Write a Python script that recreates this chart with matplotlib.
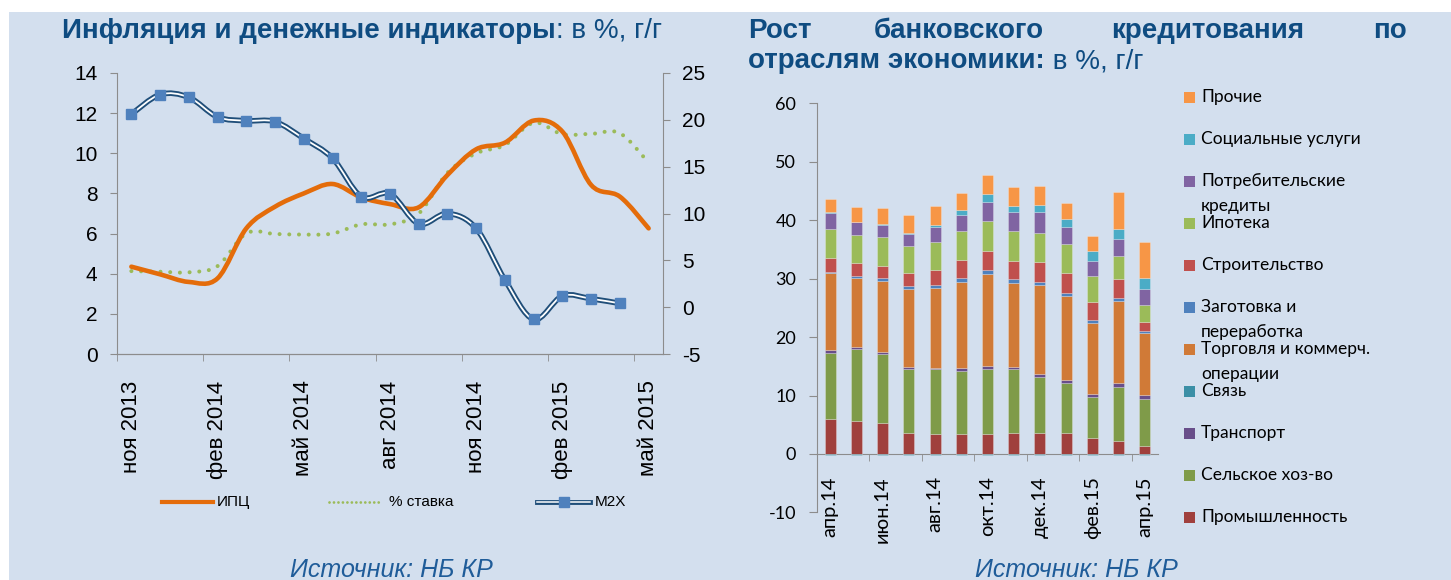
import numpy as np
import matplotlib
matplotlib.use("Agg")
import matplotlib.pyplot as plt
from matplotlib.path import Path
from matplotlib.patches import PathPatch, Rectangle
from matplotlib.lines import Line2D
from matplotlib import font_manager

plt.rcParams["axes.unicode_minus"] = False

# ---- data: inflation and money indicators (% y/y) ----
months = ["ноя 2013", "дек 2013", "янв 2014", "фев 2014", "мар 2014", "апр 2014",
          "май 2014", "июн 2014", "июл 2014", "авг 2014", "сен 2014", "окт 2014",
          "ноя 2014", "дек 2014", "янв 2015", "фев 2015", "мар 2015", "апр 2015",
          "май 2015"]
cpi = [4.35, 3.97, 3.59, 3.77, 6.26, 7.34, 8.0, 8.47, 7.8, 7.47, 7.31, 8.92,
       10.2, 10.53, 11.63, 11.08, 8.42, 7.84, 6.26]
rate = [4.13, 4.1, 4.07, 4.38, 6.01, 5.98, 5.95, 6.0, 6.46, 6.46, 7.0, 9.03,
        10.0, 10.41, 11.52, 10.95, 10.97, 11.0, 9.53]
m2x = [20.6, 22.7, 22.4, 20.3, 19.9, 19.8, 18.0, 15.9, 11.8, 12.1, 8.9, 10.0,
       8.4, 2.9, -1.3, 1.2, 0.9, 0.4]

# ---- data: bank lending growth by sector (% y/y) ----
bar_months = ["апр.14", "май.14", "июн.14", "июл.14", "авг.14", "сен.14", "окт.14",
              "ноя.14", "дек.14", "янв.15", "фев.15", "мар.15", "апр.15"]
prom = [6.0, 5.7, 5.36, 3.65, 3.48, 3.48, 3.48, 3.65, 3.65, 3.65, 2.8, 2.22, 1.43]
selsk = [11.2, 12.27, 11.75, 10.95, 11.01, 10.72, 11.12, 10.84, 9.58, 8.44, 6.9, 9.3, 7.93]
transp = [0.6, 0.28, 0.4, 0.35, 0.17, 0.52, 0.46, 0.46, 0.52, 0.52, 0.57, 0.69, 0.68]
svyaz = [-0.2, -0.2, -0.2, -0.2, -0.2, -0.2, -0.2, -0.2, -0.2, -0.2, -0.2, -0.2, -0.2]
torg = [13.1, 11.8, 12.04, 13.34, 13.81, 14.77, 15.8, 14.26, 15.23, 14.37, 12.15, 13.92, 10.61]
zagot = [0.3, 0.4, 0.51, 0.52, 0.51, 0.57, 0.69, 0.68, 0.51, 0.57, 0.57, 0.51, 0.34]
stroit = [2.4, 2.17, 2.17, 2.17, 2.51, 3.14, 3.19, 3.08, 3.31, 3.43, 3.08, 3.25, 1.66]
ipot = [4.85, 4.8, 4.85, 4.62, 4.73, 4.9, 5.13, 5.13, 5.08, 4.96, 4.39, 4.05, 2.91]
potreb = [2.75, 2.23, 2.11, 2.05, 2.63, 2.8, 3.31, 3.26, 3.48, 2.91, 2.51, 2.91, 2.73]
soc = [0.2, 0.11, 0.17, 0.17, 0.28, 0.86, 1.32, 1.08, 1.25, 1.42, 1.77, 1.6, 1.77]
proch = [2.3, 2.57, 2.8, 3.02, 3.31, 2.85, 3.25, 3.31, 3.31, 2.74, 2.62, 6.39, 6.22]

sectors = [
    ("Промышленность", prom, "#A0403D"),
    ("Сельское хоз-во", selsk, "#7F9B49"),
    ("Транспорт", transp, "#684E8A"),
    ("Связь", svyaz, "#3B8FA6"),
    ("Торговля и коммерч.\nоперации", torg, "#D07A37"),
    ("Заготовка и\nпереработка", zagot, "#4F81BD"),
    ("Строительство", stroit, "#C0504D"),
    ("Ипотека", ipot, "#9BBB59"),
    ("Потребительские\nкредиты", potreb, "#8064A2"),
    ("Социальные услуги", soc, "#4BACC6"),
    ("Прочие", proch, "#F79646"),
]

installed = {f.name for f in font_manager.fontManager.ttflist}
def fam(*names):
    return [n for n in names if n in installed] + ["DejaVu Sans"]

ARIAL = fam("Liberation Sans", "Arimo")
CALI = fam("Lato", "Open Sans", "Noto Sans")
BLUE = "#0F4C81"
BG = "#D3DFEE"
AXC = "#8C8C8C"
TSIZE = 20

W, H = 1451, 580
fig = plt.figure(figsize=(W / 100, H / 100), dpi=100, facecolor="white")

# overlay in pixel coordinates for background, titles and legends
bg = fig.add_axes([0, 0, 1, 1], zorder=-1)
bg.set_xlim(0, W)
bg.set_ylim(H, 0)
bg.axis("off")
bg.add_patch(Rectangle((9, 12), W - 9, H - 12, fc=BG, ec="none"))


def box(x0, y0, x1, y1):
    # pixel box (top-left origin) -> figure fraction rect
    return [x0 / W, (H - y1) / H, (x1 - x0) / W, (y1 - y0) / H]


def smooth_path(xs, ys):
    pts = np.column_stack([xs, ys]).astype(float)
    n = len(pts)
    verts, codes = [pts[0]], [Path.MOVETO]
    for i in range(n - 1):
        p0, p1 = pts[max(i - 1, 0)], pts[i]
        p2, p3 = pts[i + 1], pts[min(i + 2, n - 1)]
        verts += [p1 + (p2 - p0) / 6, p2 - (p3 - p1) / 6, p2]
        codes += [Path.CURVE4] * 3
    return Path(verts, codes)


# ================= left chart =================
ax = fig.add_axes(box(117, 73, 663, 354))
ax.patch.set_visible(False)
ax2 = ax.twinx()
ax2.patch.set_visible(False)

x = np.arange(len(months))
ax.add_patch(PathPatch(smooth_path(x, rate), fill=False, ec="#9BBB59", lw=2.9,
                       ls=(0, (0.01, 2.4)), capstyle="round", zorder=2))
ax.add_patch(PathPatch(smooth_path(x, cpi), fill=False, ec="#E46C0A", lw=3.3,
                       capstyle="round", zorder=3))
xm = np.arange(len(m2x))
ax2.add_patch(PathPatch(smooth_path(xm, m2x), fill=False, ec="#1F4E79", lw=4.0, zorder=3))
ax2.add_patch(PathPatch(smooth_path(xm, m2x), fill=False, ec="white", lw=1.3, zorder=4))
ax2.plot(xm, m2x, ls="none", marker="s", ms=7.5, mfc="#4F81BD", mec="#4F81BD", zorder=5)

ax.set_xlim(-0.5, len(months) - 0.5)
ax.set_ylim(0, 14)
ax2.set_ylim(-5, 25)
ax.set_yticks(range(0, 15, 2))
ax2.set_yticks(range(-5, 26, 5))
ax.set_xticks(x[::3])
ax.set_xticklabels(months[::3], rotation=90, va="top", ha="center")
ax.set_xticks(np.arange(-0.5, len(months) - 1, 3), minor=True)
ax.tick_params(axis="x", which="major", length=0, pad=19)
ax.tick_params(axis="x", which="minor", length=5, color=AXC, direction="out")
ax.tick_params(axis="y", length=5, color=AXC, pad=9)
ax2.tick_params(axis="y", length=5, color=AXC, pad=9)
for a in (ax, ax2):
    for lab in a.get_yticklabels():
        lab.set_family(ARIAL)
        lab.set_fontsize(15)
    a.spines["top"].set_visible(False)
    for s in ("left", "right", "bottom"):
        a.spines[s].set_color(AXC)
for lab in ax.get_xticklabels():
    lab.set_family(ARIAL)
    lab.set_fontsize(16)
ax.spines["right"].set_visible(False)
ax2.spines["left"].set_visible(False)

# left legend
ly = 502
bg.add_line(Line2D([162, 213], [ly, ly], color="#E46C0A", lw=3))
bg.text(217, ly, "ИПЦ", va="center", ha="left", fontsize=11, family=ARIAL)
bg.add_line(Line2D([329, 382], [ly, ly], color="#9BBB59", lw=2, ls=(0, (0.01, 1.6)),
                   dash_capstyle="round"))
bg.text(389, ly, "% ставка", va="center", ha="left", fontsize=11, family=ARIAL)
bg.add_line(Line2D([537, 590], [ly, ly], color="#1F4E79", lw=3.5))
bg.add_line(Line2D([537, 590], [ly, ly], color="white", lw=1.1))
bg.add_line(Line2D([563.5], [ly], ls="none", marker="s", ms=7, mfc="#4F81BD", mec="#4F81BD"))
bg.text(595, ly, "M2X", va="center", ha="left", fontsize=11, family=ARIAL)

# left title
t1 = bg.text(62, 37.5, "Инфляция и денежные индикаторы", fontsize=TSIZE, fontweight="bold",
             color=BLUE, family=ARIAL, va="baseline", ha="left")
bg.annotate(": в %, г/г", xy=(1, 0), xycoords=t1, va="bottom", ha="left",
            fontsize=TSIZE, color=BLUE, family=ARIAL)

# ================= right chart =================
bx = fig.add_axes(box(817, 103.3, 1158, 512.4))
bx.patch.set_visible(False)
bx.spines["bottom"].set_position(("data", 0))
xb = np.arange(len(bar_months))
pos_base = np.zeros(len(bar_months))
neg_base = np.zeros(len(bar_months))
for name, vals, col in sectors:
    v = np.array(vals, dtype=float)
    base = np.where(v >= 0, pos_base, neg_base)
    bx.bar(xb, v, bottom=base, width=0.42, color=col, edgecolor=(1, 1, 1, 0.35),
           lw=0.5, zorder=3)
    pos_base = pos_base + np.where(v >= 0, v, 0)
    neg_base = neg_base + np.where(v < 0, v, 0)

bx.set_xlim(-0.5, len(bar_months) - 0.5)
bx.set_ylim(-10, 60)
bx.set_yticks(range(-10, 61, 10))
bx.set_xticks(xb[::2])
bx.set_xticklabels(bar_months[::2])
bx.set_xticks(np.arange(1.5, len(bar_months) - 1, 2), minor=True)
bx.spines["top"].set_visible(False)
bx.spines["right"].set_visible(False)
bx.spines["left"].set_color(AXC)
bx.spines["bottom"].set_color(AXC)
bx.tick_params(axis="x", which="major", length=0, pad=16, labelrotation=90)
bx.tick_params(axis="x", which="minor", length=5, color=AXC)
bx.tick_params(axis="y", length=6, color=AXC, pad=9)
for lab in bx.get_xticklabels():
    lab.set_va("top")
    lab.set_fontsize(14.5)
for lab in bx.get_yticklabels():
    lab.set_fontsize(13)
for lab in bx.get_xticklabels() + bx.get_yticklabels():
    lab.set_family(CALI)

# right legend (reverse order, Прочие on top)
for k, (name, vals, col) in enumerate(sectors[::-1]):
    cy = 97 + 42 * k
    bg.add_patch(Rectangle((1184, cy - 5.5), 11, 11, fc=col, ec="none"))
    for j, line in enumerate(name.split("\n")):
        bg.text(1201, cy + 25 * j, line, va="center", ha="left", fontsize=12.5,
                family=CALI, color="black")

# right title (justified first line)
for word, xw in [("Рост", 748), ("банковского", 874), ("кредитования", 1111)]:
    bg.text(xw, 37.5, word, fontsize=TSIZE, fontweight="bold", color=BLUE, family=ARIAL,
            va="baseline", ha="left")
bg.text(1407, 37.5, "по", fontsize=TSIZE, fontweight="bold", color=BLUE, family=ARIAL,
        va="baseline", ha="right")
t2 = bg.text(748, 68.3, "отраслям экономики:", fontsize=TSIZE, fontweight="bold",
             color=BLUE, family=ARIAL, va="baseline", ha="left")
bg.annotate(" в %, г/г", xy=(1, 0), xycoords=t2, va="bottom", ha="left",
            fontsize=TSIZE, color=BLUE, family=ARIAL)

# sources at the bottom edge
for cx in (391, 1076):
    bg.text(cx, 577, "Источник: НБ КР", fontsize=18, style="italic", color="#1F5C99",
            family=ARIAL, va="baseline", ha="center")

fig.savefig("out.png", dpi=100, facecolor=fig.get_facecolor())
